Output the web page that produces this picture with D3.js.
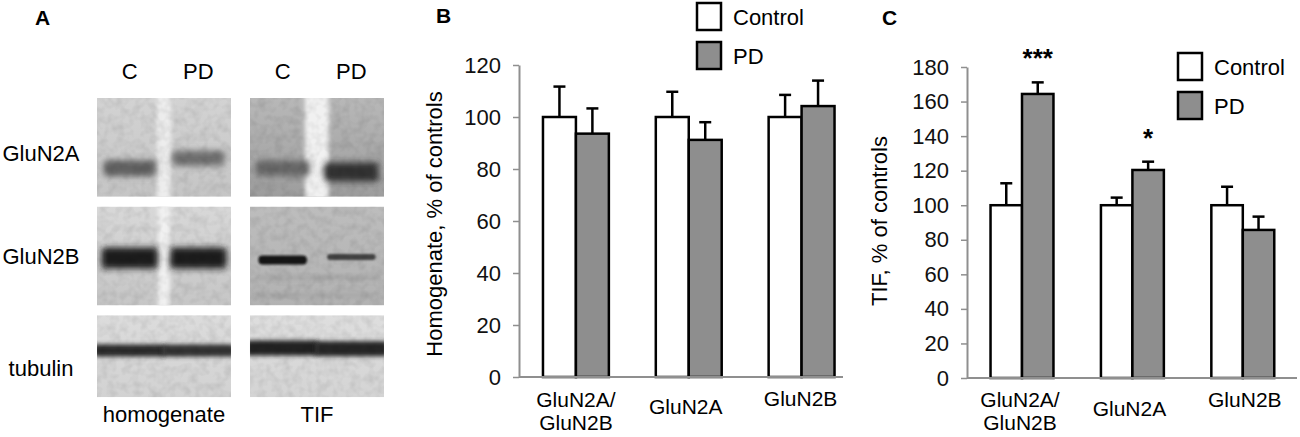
<!DOCTYPE html>
<html>
<head>
<meta charset="utf-8">
<script src="https://cdn.jsdelivr.net/npm/d3@7"></script>
<style>
  html, body { margin: 0; padding: 0; background: #fff; }
  svg { display: block; font-family: "Liberation Sans", Arial, sans-serif; }
</style>
</head>
<body>
<svg id="fig" width="1300" height="437"></svg>
<script>
// ---- data ----
const categories = ["GluN2A/GluN2B", "GluN2A", "GluN2B"];
const categoryLines = [["GluN2A/", "GluN2B"], ["GluN2A"], ["GluN2B"]];
const groups = ["Control", "PD"];

// B: homogenate, % of controls
const homControl = [100, 100, 100];
const homControlErr = [11.7, 9.7, 8.5];
const homPD = [93.6, 91.2, 104.2];
const homPDErr = [9.7, 6.8, 9.8];
const homTicks = [0, 20, 40, 60, 80, 100, 120];

// C: TIF, % of controls
const tifControl = [100, 100, 100];
const tifControlErr = [12.7, 4.4, 10.7];
const tifPD = [164.4, 120.4, 85.7];
const tifPDErr = [6.7, 4.8, 7.7];
const tifStars = ["***", "*", ""];
const tifTicks = [0, 20, 40, 60, 80, 100, 120, 140, 160, 180];

// A: western blots
const blotRows = ["GluN2A", "GluN2B", "tubulin"];
const blotFractions = ["homogenate", "TIF"];
const blotLanes = ["C", "PD"];
// band density 0..1, per row: [homogenate C, homogenate PD, TIF C, TIF PD]
const bandDensity = [
  [0.62, 0.57, 0.60, 0.80],
  [0.88, 0.88, 0.92, 0.74],
  [0.84, 0.81, 0.87, 0.85]
];

const svg = d3.select("#fig");
const defs = svg.append("defs");
const FONT = "'Liberation Sans', Arial, sans-serif";

// ---- filters ----
const blurs = { sharp: 1.1, mid: 2, soft: 3.2 };
Object.entries(blurs).forEach(([k, s]) => {
  defs.append("filter").attr("id", "blur-" + k)
    .attr("x", "-30%").attr("y", "-80%").attr("width", "160%").attr("height", "260%")
    .append("feGaussianBlur").attr("stdDeviation", s);
});
const grain = defs.append("filter").attr("id", "grain")
  .attr("x", 0).attr("y", 0).attr("width", "100%").attr("height", "100%");
grain.append("feTurbulence").attr("type", "fractalNoise")
  .attr("baseFrequency", "0.12").attr("numOctaves", 2).attr("seed", 5);
grain.append("feColorMatrix").attr("type", "matrix")
  .attr("values", "0 0 0 0 0  0 0 0 0 0  0 0 0 0 0  1.6 0 0 0 -0.6");

// ---- panel A: blots ----
// look of each blot panel, [row][fraction]
const blotLook = [
  [ { top: "#d3d3d3", bottom: "#c5c5c5", gapW: 14, gap: "#ededed", dy: [0.71, 0.61], bh: [16, 15], inset: 3, blur: "soft" },
    { top: "#b8b8b8", bottom: "#9d9d9d", gapW: 24, gap: "#f1f1f1", dy: [0.71, 0.75], bh: [15, 19], inset: 2, blur: "soft" } ],
  [ { top: "#d8d8d8", bottom: "#c6c6c6", gapW: 12, gap: "#f1f1f1", dy: [0.52, 0.52], bh: [21, 21], inset: 1, blur: "soft" },
    { top: "#bdbdbd", bottom: "#b2b2b2", gapW: 0, dy: [0.54, 0.51], bh: [9, 6], inset: 5, blur: "sharp",
      faint: [0.72, 0.90] } ],
  [ { top: "#dcdcdc", bottom: "#d2d2d2", gapW: 0, dy: [0.43, 0.43], bh: [12, 12], inset: -7, blur: "mid" },
    { top: "#dedede", bottom: "#d4d4d4", gapW: 0, dy: [0.40, 0.41], bh: [15, 15], inset: -7, blur: "mid" } ]
];

const blotX = d3.scaleBand(blotFractions, [97, 384]).paddingInner(0.124);
const blotY = d3.scaleBand(blotRows, [98, 414]).paddingInner(0.09);
const laneX = d3.scaleBand(blotLanes, [0, blotX.bandwidth()]).paddingInner(0.15).paddingOuter(0.05);
const shade = d3.interpolateRgb("#ffffff", "#000000");
const panelH = r => (r === blotRows.length - 1 ? 82 : blotY.bandwidth());

const gA = svg.append("g");
blotRows.forEach((row, r) => {
  blotFractions.forEach((frac, f) => {
    const look = blotLook[r][f];
    const x0 = blotX(frac), y0 = blotY(row), w = blotX.bandwidth(), h = panelH(r);
    const id = `p${r}${f}`;
    const grad = defs.append("linearGradient").attr("id", "g" + id)
      .attr("x1", 0).attr("y1", 0).attr("x2", 0).attr("y2", 1);
    grad.append("stop").attr("offset", 0).attr("stop-color", look.top);
    grad.append("stop").attr("offset", 1).attr("stop-color", look.bottom);
    defs.append("clipPath").attr("id", "c" + id)
      .append("rect").attr("x", x0).attr("y", y0).attr("width", w).attr("height", h);

    const p = gA.append("g").attr("clip-path", `url(#c${id})`);
    p.append("rect").attr("x", x0).attr("y", y0).attr("width", w).attr("height", h)
      .attr("fill", `url(#g${id})`);
    if (look.gapW) {
      const mid = x0 + (laneX("C") + laneX.bandwidth() + laneX("PD")) / 2;
      p.append("rect").attr("x", mid - look.gapW / 2).attr("y", y0 - 10)
        .attr("width", look.gapW).attr("height", h + 20)
        .attr("fill", look.gap).attr("filter", "url(#blur-mid)");
    }
    (look.faint || []).forEach(fy => {
      p.append("rect").attr("x", x0 + 6).attr("y", y0 + fy * h - 2)
        .attr("width", w - 12).attr("height", 4)
        .attr("fill", "#a6a6a6").attr("filter", "url(#blur-mid)");
    });
    blotLanes.forEach((lane, l) => {
      const bh = look.bh[l];
      p.append("rect")
        .attr("x", x0 + laneX(lane) + look.inset)
        .attr("y", y0 + look.dy[l] * h - bh / 2)
        .attr("width", laneX.bandwidth() - 2 * look.inset)
        .attr("height", bh)
        .attr("rx", Math.min(4, bh / 2))
        .attr("fill", shade(bandDensity[r][f * 2 + l]))
        .attr("filter", `url(#blur-${look.blur})`);
    });
    p.append("rect").attr("x", x0).attr("y", y0).attr("width", w).attr("height", h)
      .attr("filter", "url(#grain)").attr("opacity", 0.1);
  });
});

// lane labels, row labels, fraction labels
blotFractions.forEach(frac => {
  blotLanes.forEach(lane => {
    gA.append("text").attr("x", blotX(frac) + laneX(lane) + laneX.bandwidth() / 2)
      .attr("y", 79).attr("text-anchor", "middle").attr("font-size", 22).text(lane);
  });
  gA.append("text").attr("x", blotX(frac) + blotX.bandwidth() / 2).attr("y", 422)
    .attr("text-anchor", "middle").attr("font-size", 22).text(frac);
});
const rowLabelY = [161, 264, 376];
blotRows.forEach((row, r) => {
  gA.append("text").attr("x", 41).attr("y", rowLabelY[r])
    .attr("text-anchor", "middle").attr("font-size", 22).text(row);
});

// ---- bar panels ----
function barPanel(cfg) {
  const g = svg.append("g");
  const x = d3.scaleBand(categories, cfg.xRange).paddingInner(cfg.pad).paddingOuter(cfg.pad / 2);
  const xs = d3.scaleBand(groups, [0, x.bandwidth()]);
  const y = d3.scaleLinear([0, cfg.max], cfg.yRange);

  const yAxis = g.append("g").attr("transform", `translate(${cfg.axisX},0)`)
    .call(d3.axisLeft(y).tickValues(cfg.ticks).tickSize(6).tickPadding(12).tickSizeOuter(0));
  yAxis.attr("font-family", FONT).attr("font-size", 22);
  yAxis.select(".domain").attr("stroke", "#8f8f8f").attr("stroke-width", 2);
  yAxis.selectAll(".tick line").attr("stroke", "#8f8f8f").attr("stroke-width", 1.5);
  yAxis.selectAll(".tick text").attr("fill", "#111");

  const rows = categories.map((c, i) => ({
    c, i,
    vals: [
      { k: "Control", v: cfg.control[i], e: cfg.controlErr[i] },
      { k: "PD", v: cfg.pd[i], e: cfg.pdErr[i] }
    ]
  }));

  const cat = g.selectAll(".cat").data(rows).join("g")
    .attr("transform", d => `translate(${x(d.c)},0)`);

  const bar = cat.selectAll(".bar").data(d => d.vals).join("g");
  bar.append("line")
    .attr("x1", d => xs(d.k) + xs.bandwidth() / 2).attr("x2", d => xs(d.k) + xs.bandwidth() / 2)
    .attr("y1", d => y(d.v)).attr("y2", d => y(d.v + d.e))
    .attr("stroke", "#000").attr("stroke-width", 2.5);
  bar.append("line")
    .attr("x1", d => xs(d.k) + xs.bandwidth() / 2 - 6).attr("x2", d => xs(d.k) + xs.bandwidth() / 2 + 6)
    .attr("y1", d => y(d.v + d.e)).attr("y2", d => y(d.v + d.e))
    .attr("stroke", "#000").attr("stroke-width", 2.5);
  bar.append("rect")
    .attr("x", d => xs(d.k)).attr("width", xs.bandwidth())
    .attr("y", d => y(d.v)).attr("height", d => y(0) - y(d.v))
    .attr("fill", d => (d.k === "PD" ? "#8e8e8e" : "#fff"))
    .attr("stroke", "#000").attr("stroke-width", 2.5);

  if (cfg.stars) {
    cat.append("text")
      .attr("x", xs("PD") + xs.bandwidth() / 2)
      .attr("y", d => y(d.vals[1].v + d.vals[1].e) - 15)
      .attr("text-anchor", "middle").attr("font-size", 26).attr("font-weight", "bold")
      .text(d => cfg.stars[d.i]);
  }

  g.append("line").attr("x1", cfg.axisX).attr("x2", cfg.xEnd)
    .attr("y1", y(0)).attr("y2", y(0))
    .attr("stroke", "#8f8f8f").attr("stroke-width", 2);

  const lab = cat.append("text").attr("text-anchor", "middle").attr("font-size", 21)
    .attr("y", d => cfg.labelY + cfg.labelShift[d.i])
    .attr("transform", d => `translate(${x.bandwidth() / 2 + cfg.labelDx[d.i]},0)`);
  lab.selectAll("tspan").data(d => categoryLines[d.i]).join("tspan")
    .attr("x", 0).attr("dy", (t, j) => (j === 0 ? 0 : 23)).text(t => t);

  g.append("text")
    .attr("transform", `translate(${cfg.titleX},${cfg.titleY}) rotate(-90)`)
    .attr("text-anchor", "middle").attr("font-size", 22).text(cfg.title);

  const leg = g.selectAll(".leg").data(groups).join("g")
    .attr("transform", (d, i) => `translate(${cfg.legendX},${cfg.legendY + i * 39})`);
  leg.append("rect").attr("width", 24).attr("height", 27)
    .attr("fill", d => (d === "PD" ? "#8e8e8e" : "#fff"))
    .attr("stroke", "#000").attr("stroke-width", 2.5);
  leg.append("text").attr("x", 36).attr("y", 22).attr("font-size", 22).text(d => d);
}

barPanel({
  control: homControl, controlErr: homControlErr, pd: homPD, pdErr: homPDErr,
  ticks: homTicks, max: 120, yRange: [377, 65], axisX: 519, xEnd: 843,
  xRange: [519.5, 858], pad: 0.416,
  labelY: 407, labelShift: [0, 7, -1], labelDx: [0, -3, -1],
  title: "Homogenate, % of controls", titleX: 442, titleY: 224,
  legendX: 697, legendY: 3
});

barPanel({
  control: tifControl, controlErr: tifControlErr, pd: tifPD, pdErr: tifPDErr,
  ticks: tifTicks, max: 180, yRange: [378, 67], axisX: 967, xEnd: 1297,
  xRange: [966.8, 1298], pad: 0.43, stars: tifStars,
  labelY: 407, labelShift: [0, 9, 0], labelDx: [-2, -3, 2],
  title: "TIF, % of controls", titleX: 887, titleY: 221,
  legendX: 1178, legendY: 53
});

// panel letters
[["A", 35, 25], ["B", 436, 23], ["C", 882, 25]].forEach(([t, lx, ly]) => {
  svg.append("text").attr("x", lx).attr("y", ly).attr("font-size", 21)
    .attr("font-weight", "bold").text(t);
});
</script>
</body>
</html>
